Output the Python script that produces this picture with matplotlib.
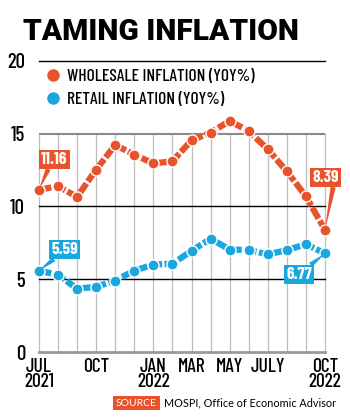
import matplotlib
matplotlib.use("Agg")
import matplotlib.pyplot as plt
from matplotlib.lines import Line2D

# data, Jul 2021 .. Oct 2022
months = ["Jul 21", "Aug 21", "Sep 21", "Oct 21", "Nov 21", "Dec 21", "Jan 22", "Feb 22",
          "Mar 22", "Apr 22", "May 22", "Jun 22", "Jul 22", "Aug 22", "Sep 22", "Oct 22"]
wholesale = [11.16, 11.39, 10.66, 12.54, 14.23, 13.56, 12.96, 13.11,
             14.55, 15.08, 15.88, 15.18, 13.93, 12.41, 10.70, 8.39]
retail = [5.59, 5.30, 4.35, 4.48, 4.91, 5.59, 6.01, 6.07,
          6.95, 7.79, 7.04, 7.01, 6.71, 7.00, 7.41, 6.77]
tick_pos = [0, 3, 6, 8, 10, 12, 15]
tick_labels = ["JUL\n2021", "OCT", "JAN\n2022", "MAR", "MAY", "JULY", "OCT\n2022"]
yticks = [0, 5, 10, 15, 20]

ORANGE = "#e9532b"
BLUE = "#1aa7e0"
COND = ["Barlow Condensed", "DejaVu Sans"]

W, H = 350, 419
fig = plt.figure(figsize=(W / 100, H / 100), dpi=100)
ax = fig.add_axes([39 / W, (H - 352) / H, (325 - 39) / W, (352 - 61) / H])
ax.set_xlim(0, len(months) - 1)
ax.set_ylim(0, 20)

# grid
for i in range(len(months)):
    ax.plot([i, i], [0, 15], color="#bdbdbd", lw=0.9, zorder=1, clip_on=False)
for y in yticks:
    if y == 0:
        ax.axhline(y, color="#9a9a9a", lw=2, zorder=1, clip_on=False)
    elif y == 15:
        ax.axhline(y, color="#8a8a8a", lw=1.5, zorder=1)
    else:
        ax.axhline(y, color="black", lw=1, zorder=1, clip_on=False)

x = list(range(len(months)))
for vals, col in [(wholesale, ORANGE), (retail, BLUE)]:
    ax.plot(x, vals, color=col, lw=4.5, ls=(0, (2.0, 0.4)), zorder=3,
            solid_capstyle="butt", dash_capstyle="butt")
    ax.plot(x, vals, ls="none", marker="o", ms=8, mfc=col, mec="white", mew=1.0,
            zorder=4, clip_on=False)

for s in ax.spines.values():
    s.set_visible(False)
ax.tick_params(length=0)
ax.set_yticks(yticks)
ax.set_yticklabels([str(v) for v in yticks], family=COND, fontsize=15, fontweight=500)
ax.tick_params(axis="y", pad=10)
ax.set_xticks(tick_pos)
ax.set_xticklabels(tick_labels, family=COND, fontsize=14, fontweight=500, linespacing=0.85)
ax.tick_params(axis="x", pad=4)

# callouts
callouts = [
    (0, wholesale[0], 0.81, 13.23, ORANGE, (0.3, 0)),
    (15, wholesale[-1], 15.03, 11.99, ORANGE, (0.8, 0)),
    (0, retail[0], 1.34, 7.04, BLUE, (0.2, 0)),
    (15, retail[-1], 13.64, 5.33, BLUE, (0.85, 1)),
]
for px, py, tx, ty, col, rp in callouts:
    ax.annotate(f"{py:.2f}", xy=(px, py), xytext=(tx, ty), ha="center", va="center",
                color="white", fontsize=12.5, fontweight="bold", family=COND,
                bbox=dict(boxstyle="square,pad=0.12", fc=col, ec="none"),
                arrowprops=dict(arrowstyle="wedge,tail_width=0.3", fc=col, ec="none",
                                relpos=rp, shrinkA=0, shrinkB=0),
                annotation_clip=False, zorder=5)

# legend
handles = [Line2D([], [], ls="none", marker="o", ms=9, mfc=ORANGE, mec="none"),
           Line2D([], [], ls="none", marker="o", ms=9, mfc=BLUE, mec="none")]
leg = ax.legend(handles, ["WHOLESALE INFLATION (YOY%)", "RETAIL INFLATION (YOY%)"],
                loc="upper left", bbox_to_anchor=(46 / W, 1 - 69 / H),
                bbox_transform=fig.transFigure, frameon=False, handlelength=0.8,
                handletextpad=0.4, labelspacing=0.45, borderpad=0, borderaxespad=0,
                prop=dict(family=COND, size=12.5, weight=500))

# title
fig.text(23 / W, 1 - 40 / H, "TAMING INFLATION", fontsize=21.5, fontweight="black",
         family=["Roboto", "DejaVu Sans"], va="baseline", ha="left")

# source
fig.text(116 / W, 1 - 403 / H, "SOURCE", color="white", fontsize=7.5, family="Lato",
         va="center", ha="left",
         bbox=dict(boxstyle="square,pad=0.25", fc=ORANGE, ec="none"))
fig.text(164 / W, 1 - 403 / H, "MOSPI, Office of Economic Advisor", fontsize=7.8,
         family="Lato", va="center", ha="left")

fig.savefig("out.png", dpi=100)
